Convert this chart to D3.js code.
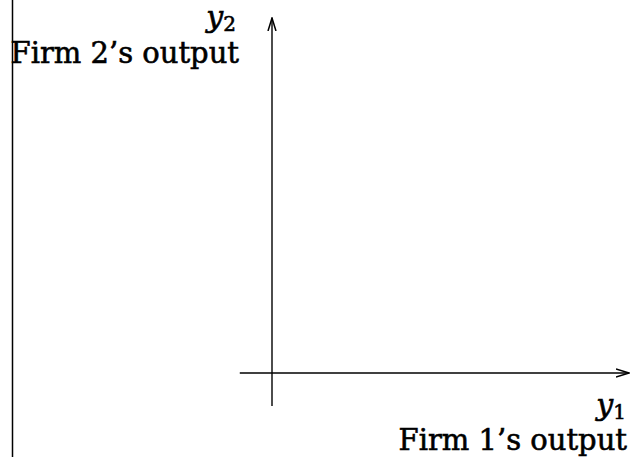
<!DOCTYPE html>
<html lang="en">
<head>
    <meta charset="UTF-8">
    <title>Firm outputs</title>
    <style>
        html,body{
            margin:0;
            height: 100%;
            overflow: hidden;
            background: #fff;
        }
        text{ font-family: "DejaVu Serif", serif; fill: #000; stroke: #000; stroke-width: 0.6px; }
    </style>
</head>
<body>
    <svg id="svg"></svg>
    <script src="https://d3js.org/d3.v7.min.js"></script>
    <script>
        const width = 630;
        const height = 457;
        const svg = d3.select("#svg").attr('width', width).attr('height', height);

        // axis symbols and descriptions
        const axisVars = ['y', 'y'];
        const axisSubs = ['1', '2'];
        const axisNames = ["Firm 1\u2019s output", "Firm 2\u2019s output"];
        // axis extents in axis units (origin at 0)
        const xExtent = [-0.9, 10];
        const yExtent = [-0.93, 10];

        const xScale = d3.scaleLinear().domain([0, 10]).range([272, 630]);
        const yScale = d3.scaleLinear().domain([0, 10]).range([373, 18]);

        svg.append('defs').append('marker')
            .attr('id', 'arrow')
            .attr('viewBox', '0 0 14 10')
            .attr('refX', 13).attr('refY', 5)
            .attr('markerWidth', 14).attr('markerHeight', 10)
            .attr('markerUnits', 'userSpaceOnUse')
            .attr('orient', 'auto')
            .append('path')
            .attr('d', 'M0,1 L13,5 L0,9')
            .attr('fill', 'none')
            .attr('stroke', '#000')
            .attr('stroke-width', 1.5);

        // left frame line
        svg.append('line')
            .attr('x1', 12.5).attr('x2', 12.5)
            .attr('y1', 0).attr('y2', height)
            .attr('stroke', '#000').attr('stroke-width', 1.5);

        // horizontal axis
        svg.append('line')
            .attr('x1', xScale(xExtent[0])).attr('x2', xScale(xExtent[1]) - 1)
            .attr('y1', yScale(0)).attr('y2', yScale(0))
            .attr('stroke', '#000').attr('stroke-width', 1.4)
            .attr('marker-end', 'url(#arrow)');

        // vertical axis
        svg.append('line')
            .attr('x1', xScale(0)).attr('x2', xScale(0))
            .attr('y1', yScale(yExtent[0])).attr('y2', yScale(yExtent[1]))
            .attr('stroke', '#000').attr('stroke-width', 1.4)
            .attr('marker-end', 'url(#arrow)');

        const addSymbol = (i, x, y) => {
            const t = svg.append('text')
                .attr('x', x).attr('y', y)
                .attr('text-anchor', 'end');
            t.append('tspan').text(axisVars[i])
                .attr('font-style', 'italic').attr('font-size', 30);
            t.append('tspan').text(axisSubs[i])
                .attr('font-size', 20).attr('dy', 4);
        };
        const addName = (i, x, y) => {
            svg.append('text')
                .attr('x', x).attr('y', y)
                .attr('text-anchor', 'end')
                .attr('font-size', 29)
                .text(axisNames[i]);
        };

        // x axis labels (bottom right)
        addSymbol(0, 626, 415);
        addName(0, 627, 450);
        // y axis labels (top left)
        addSymbol(1, 236, 27);
        addName(1, 239, 63);
    </script>
</body>
</html>
